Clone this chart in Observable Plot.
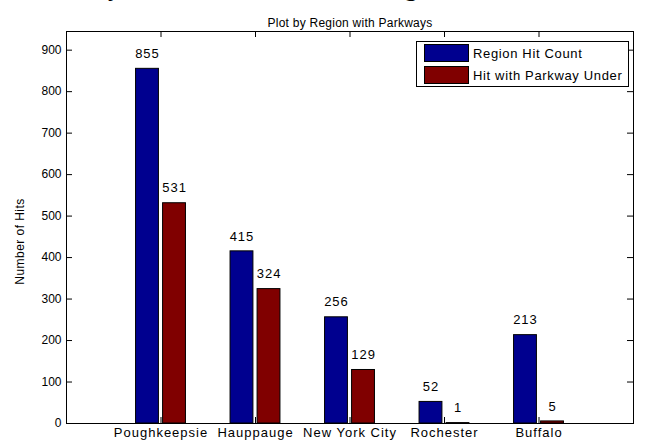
<!DOCTYPE html>
<html>
<head>
<meta charset="utf-8">
<script src="https://cdn.jsdelivr.net/npm/d3@7"></script>
<script src="https://cdn.jsdelivr.net/npm/@observablehq/plot@0.6"></script>
<style>
  html, body { margin: 0; padding: 0; background: #fff; }
  #wrap { position: relative; width: 646px; height: 442px; overflow: hidden; font-family: "Liberation Sans", Arial, sans-serif; }
  #legend { position: absolute; left: 416px; top: 41px; width: 213px; height: 46px; border: 1px solid #000; background: #fff; box-sizing: border-box; }
  .item { position: absolute; left: 7px; height: 18px; display: flex; align-items: center; font-size: 13px; letter-spacing: 0.65px; color: #000; white-space: nowrap; }
  .sw { width: 45px; height: 18px; border: 1px solid #000; box-sizing: border-box; margin-right: 4px; }
</style>
</head>
<body>
<div id="wrap"></div>
<script>
const regions = ["Poughkeepsie", "Hauppauge", "New York City", "Rochester", "Buffalo"];
const regionHitCount = [855, 415, 256, 52, 213];
const parkwayHitCount = [531, 324, 129, 1, 5];
const seriesNames = ["Region Hit Count", "Hit with Parkway Under"];
const seriesColors = ["#00008F", "#800000"];
const yTicks = [0, 100, 200, 300, 400, 500, 600, 700, 800, 900];
const xTicks = regions.map((_, i) => i + 1);

const rows = [];
regions.forEach((r, i) => {
  rows.push({region: r, pos: i + 1, s: 0, value: regionHitCount[i]});
  rows.push({region: r, pos: i + 1, s: 1, value: parkwayHitCount[i]});
});
const off = 0.143, half = 0.121;
const center = d => d.pos + (d.s === 0 ? -off : off);

const W = 646, H = 442, mT = 31, mB = 19, mL = 66, mR = 13;
const frameW = W - mL - mR, frameH = H - mT - mB, tk = 6;
const font = "Liberation Sans, Arial, sans-serif";

const chart = Plot.plot({
  width: W, height: H,
  marginTop: mT, marginBottom: mB, marginLeft: mL, marginRight: mR,
  style: {fontFamily: font, fontSize: "12px", color: "#000", background: "#fff", overflow: "visible"},
  x: {domain: [0, 6], axis: null},
  y: {domain: [0, 945], axis: null},
  marks: [
    Plot.rectY(rows, {x1: d => center(d) - half, x2: d => center(d) + half, y1: 0, y2: "value",
      fill: d => seriesColors[d.s], stroke: "#000", strokeWidth: 1}),
    Plot.tickY(yTicks, {y: d => d, insetRight: frameW - tk, stroke: "#000"}),
    Plot.tickY(yTicks, {y: d => d, insetLeft: frameW - tk, stroke: "#000"}),
    Plot.tickX(xTicks, {x: d => d, insetTop: frameH - tk, stroke: "#000"}),
    Plot.tickX(xTicks, {x: d => d, insetBottom: frameH - tk, stroke: "#000"}),
    Plot.frame({stroke: "#000"}),
    Plot.axisY({ticks: yTicks, tickSize: 0, tickPadding: 5, label: null, fontSize: 12}),
    Plot.axisX({ticks: xTicks, tickSize: 0, tickPadding: 4, tickFormat: i => regions[i - 1], label: null, fontSize: 13}),
    Plot.text(rows, {x: center, y: "value", text: d => String(d.value), dy: -15, fill: "#000", fontSize: 13}),
    Plot.text(["Number of Hits"], {frameAnchor: "left", textAnchor: "middle", rotate: -90, dx: -46, dy: 14, fill: "#000", fontSize: 12}),
    Plot.text(["Plot by Region with Parkways"], {frameAnchor: "top", dy: -13, fill: "#000", fontSize: 12})
  ]
});

const wrap = document.getElementById("wrap");
wrap.appendChild(chart);

const svg = d3.select(chart);
svg.selectAll('g[aria-label="x-axis tick label"] text').style("letter-spacing", "1px");
svg.selectAll('g[aria-label="text"]').each(function(_, i) {
  const g = d3.select(this);
  const t = g.selectAll("text");
  if (i === 0) t.style("letter-spacing", "1px");
  if (i === 1) t.style("letter-spacing", "0.45px");
  if (i === 2) t.style("letter-spacing", "0.25px");
});

// large header that is cropped at the top of the picture
svg.append("text")
  .attr("x", 247).attr("y", -4.5)
  .attr("text-anchor", "middle")
  .attr("font-family", "Liberation Serif, Times New Roman, serif")
  .attr("font-weight", "bold").attr("font-size", 25.2)
  .attr("fill", "#000")
  .text("Hits by Accident Location and Region");

const legend = document.createElement("div");
legend.id = "legend";
seriesNames.forEach((name, i) => {
  const it = document.createElement("div");
  it.className = "item";
  it.style.top = (i === 0 ? 2 : 24) + "px";
  const sw = document.createElement("div");
  sw.className = "sw";
  sw.style.background = seriesColors[i];
  it.appendChild(sw);
  const t = document.createElement("span");
  t.textContent = name;
  it.appendChild(t);
  legend.appendChild(it);
});
wrap.appendChild(legend);
</script>
</body>
</html>
